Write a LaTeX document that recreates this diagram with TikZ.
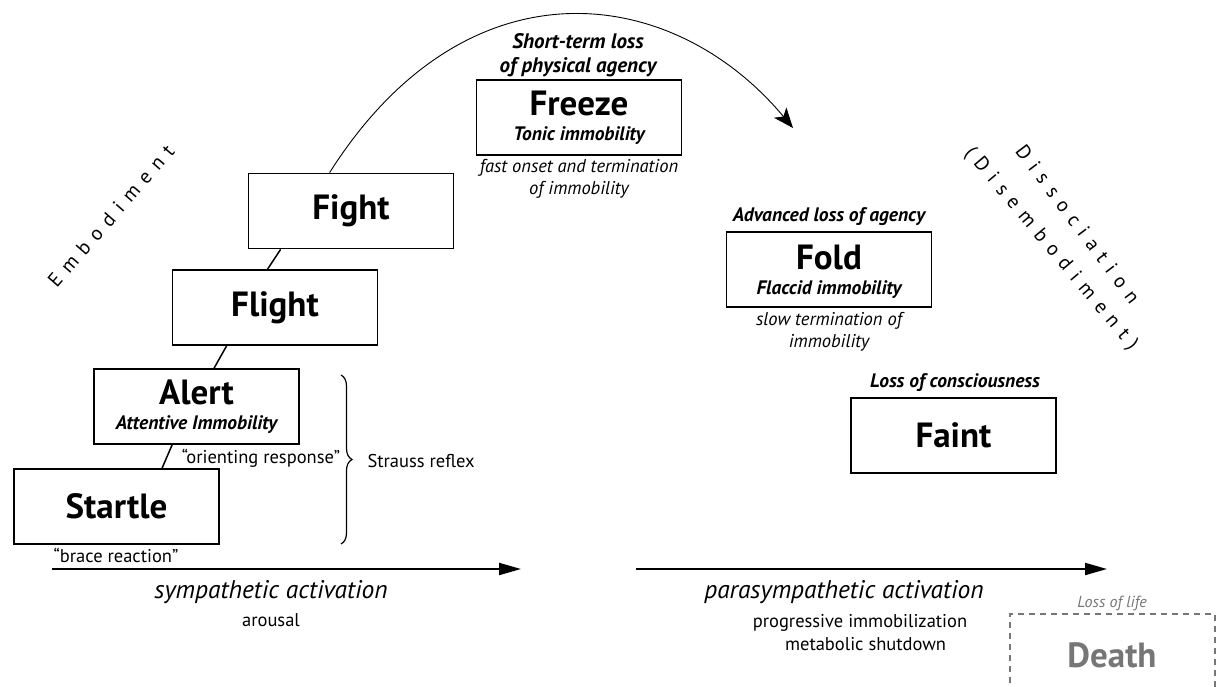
\documentclass[tikz,border=0pt]{standalone}
\usepackage{fontspec}
\setmainfont{PT Sans}
\usetikzlibrary{arrows.meta,calc,decorations.pathreplacing}
\definecolor{deadgray}{RGB}{118,118,118}
\begin{document}
\begin{tikzpicture}[x=1pt,y=-1pt,
  box/.style={draw, line width=1.8pt, minimum width=205pt, minimum height=75pt, inner sep=0pt},
  ttl/.style={font=\fontsize{35}{38}\selectfont\bfseries},
  sub/.style={font=\fontsize{19.5}{23}\selectfont\bfseries\itshape},
  note/.style={font=\fontsize{18.5}{22}\selectfont\itshape, align=center},
  plain/.style={font=\fontsize{18.5}{23}\selectfont, align=center},
  axislbl/.style={font=\fontsize{25.5}{28}\selectfont\itshape},
  spaced/.style={font=\fontsize{20}{22}\selectfont\addfontfeature{LetterSpace=40}},
  link/.style={line width=1.5pt},
  axis/.style={line width=2pt, -{Triangle[length=22pt,width=12pt]}}]
\useasboundingbox (0,0) rectangle (1217,687);

% stage boxes
\node[box] (startle) at (116.5,506.5) {};
\node[box] (alert)   at (196.5,406.5) {};
\node[box] (flight)  at (275,307.5) {};
\node[box] (fight)   at (351,211) {};
\node[box] (freeze)  at (579,117.5) {};
\node[box] (fold)    at (829,269.5) {};
\node[box] (faint)   at (953.5,435.5) {};
\node[draw=deadgray, line width=1.5pt, dash pattern=on 6pt off 5pt,
      minimum width=205pt, minimum height=110pt, inner sep=0pt] (death) at (1112.5,669) {};

% box titles
\node[ttl] (tStartle) at (startle.center) {Startle};
\node[ttl] (tAlert)   at ($(alert.center)+(0,-14)$) {Alert};
\node[sub] (sAlert)   at ($(alert.center)+(0,18)$) {Attentive Immobility};
\node[ttl] (tFlight)  at (flight.center) {Flight};
\node[ttl] (tFight)   at (fight.center) {Fight};
\node[ttl] (tFreeze)  at ($(freeze.center)+(0,-14)$) {Freeze};
\node[sub] (sFreeze)  at ($(freeze.center)+(0,18)$) {Tonic immobility};
\node[ttl] (tFold)    at ($(fold.center)+(0,-12)$) {Fold};
\node[sub] (sFold)    at ($(fold.center)+(0,20)$) {Flaccid immobility};
\node[ttl] (tFaint)   at (faint.center) {Faint};
\node[ttl, text=deadgray] (tDeath) at (1112,655) {Death};

% notes above and below the boxes
\node[sub, align=center, font=\fontsize{21}{24}\selectfont\bfseries\itshape] (nFreezeTop) at (578,55) {Short-term loss\\of physical agency};
\node[note] (nFreezeBot) at (579,179) {fast onset and termination\\of immobility};
\node[sub] (nFoldTop) at (829,217) {Advanced loss of agency};
\node[note] (nFoldBot) at (829,332) {slow termination of\\immobility};
\node[sub] (nFaintTop) at (955,383) {Loss of consciousness};
\node[text=deadgray, font=\fontsize{16}{18}\selectfont\itshape] (nDeathTop) at (1112,603) {Loss of life};
\node[plain] (nOrient) at (261,458) {“orienting response”};
\node[plain] (nBrace) at (116,555) {“brace reaction”};
\node[plain, anchor=west, font=\fontsize{18.5}{24}\selectfont] (nStrauss) at (364,461) {Strauss reflex};

% connectors between the stages
\draw[link] ($(startle.north west)+(149,0)$) -- ($(alert.south west)+(79,0)$);
\draw[link] ($(alert.north west)+(121,0)$) -- ($(flight.south west)+(55,0)$);
\draw[link] ($(flight.north west)+(96,0)$) -- ($(fight.south west)+(33,0)$);

% arc over the freeze stage
\coordinate (arcEnd) at (793,128);
\draw[line width=0.9pt, -{Stealth[length=20pt,width=16pt,inset=5pt]}]
  ($(fight.north west)+(82,0)$) .. controls (467,-44) and (673,-16) .. (arcEnd);

% brace grouping startle and alert
\coordinate (braceTop) at (341,375);
\coordinate (braceBot) at (341,544);
\draw[line width=1.2pt, decorate, decoration={brace, amplitude=11pt}] (braceTop) -- (braceBot);

% activation axes
\coordinate (symStart) at (52,569);
\coordinate (symEnd) at (521,569);
\coordinate (parStart) at (636,569);
\coordinate (parEnd) at (1107,569);
\draw[axis] (symStart) -- (symEnd);
\draw[axis] (parStart) -- (parEnd);
\node[axislbl] (lSym) at (271,592) {sympathetic activation};
\node[plain] (lArousal) at (271,620) {arousal};
\node[axislbl] (lPar) at (844,592) {parasympathetic activation};
\node[plain] (lProg) at (860,633) {progressive immobilization\\\hspace*{0.6em}metabolic shutdown};

% diagonal headings
\node[spaced, rotate=49] (embod) at (111,216) {Embodiment};
\node[spaced, rotate=-53] (dissoc) at (1078,224) {Dissociation};
\node[spaced, rotate=-50] (disemb) at (1051,249) {(Disembodiment)};
\end{tikzpicture}
\end{document}
